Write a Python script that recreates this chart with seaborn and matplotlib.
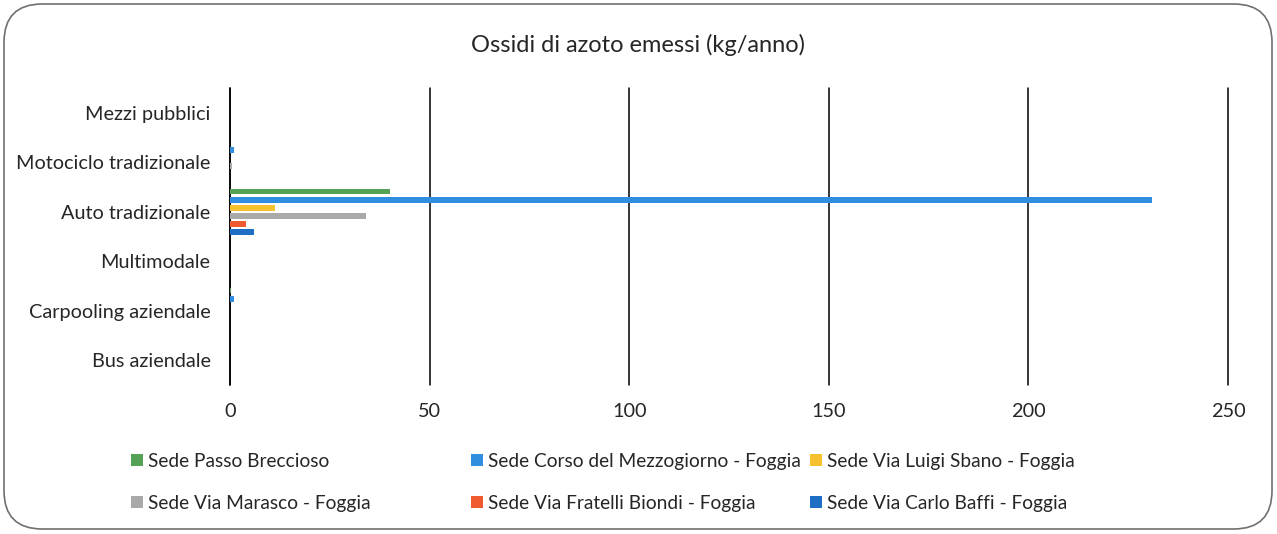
#!/usr/bin/env python
# Ossidi di azoto emessi - horizontal grouped bars

import numpy as np
import pandas as pd
import seaborn as sns
import matplotlib.pyplot as plt
from matplotlib.patches import FancyBboxPatch, Patch

categories = ['Mezzi pubblici', 'Motociclo tradizionale', 'Auto tradizionale',
              'Multimodale', 'Carpooling aziendale', 'Bus aziendale']

sedi = ['Sede Passo Breccioso', 'Sede Corso del Mezzogiorno - Foggia',
        'Sede Via Luigi Sbano - Foggia', 'Sede Via Marasco - Foggia',
        'Sede Via Fratelli Biondi - Foggia', 'Sede Via Carlo Baffi - Foggia']

# values per sede, in the order of categories
passo_breccioso = [0, 0, 40.1, 0, 0.3, 0]
corso_mezzogiorno = [0, 1.0, 230.9, 0, 1.0, 0]
luigi_sbano = [0, 0, 11.3, 0, 0, 0]
marasco = [0, 0.5, 34.1, 0, 0, 0]
fratelli_biondi = [0, 0, 4.1, 0, 0, 0]
carlo_baffi = [0, 0, 6.1, 0, 0, 0]

colors = ['#55a257', '#2f8ee0', '#f7c22e', '#a9a9a9', '#ef5a2f', '#1e6fc4']

series = [passo_breccioso, corso_mezzogiorno, luigi_sbano,
          marasco, fratelli_biondi, carlo_baffi]
df = pd.DataFrame([
    {'categoria': c, 'sede': s, 'valore': v}
    for s, vals in zip(sedi, series)
    for c, v in zip(categories, vals)
])

sns.set_style('white')
plt.rcParams['font.family'] = ['Lato', 'DejaVu Sans']

fig = plt.figure(figsize=(12.77, 5.34), dpi=100)
ax = fig.add_axes([230 / 1277, 1 - 385 / 534, 998 / 1277, 297 / 534])

sns.barplot(data=df, y='categoria', x='valore', hue='sede', orient='h',
            order=categories, hue_order=sedi, palette=colors,
            width=0.98, gap=0.28, legend=False, ax=ax, saturation=1,
            linewidth=0)

ax.set_xlim(0, 250)
ax.set_xticks(np.arange(0, 251, 50))
ax.grid(axis='x', color='black', linewidth=1.1)
for gl in ax.get_xgridlines():
    gl.set_clip_on(False)
ax.set_axisbelow(True)
ax.axvline(0, color='black', linewidth=1.1, zorder=0.5, clip_on=False)
for sp in ax.spines.values():
    sp.set_visible(False)
ax.set_xlabel('')
ax.set_ylabel('')
ax.tick_params(axis='x', length=0, pad=13, labelsize=14.3)
ax.tick_params(axis='y', length=0, pad=14, labelsize=14.3)

fig.text(638 / 1277, 1 - 45 / 534, 'Ossidi di azoto emessi (kg/anno)',
         ha='center', va='center', fontsize=17)

# legend: three columns placed like the original
handles = [Patch(facecolor=c, edgecolor='none') for c in colors]
col_x = [131, 471, 810]
for i, x in enumerate(col_x):
    leg = fig.legend([handles[i], handles[i + 3]], [sedi[i], sedi[i + 3]],
                     loc='upper left', bbox_to_anchor=(x / 1277, 1 - 453 / 534),
                     frameon=False, fontsize=13.8, handlelength=0.6,
                     handleheight=0.6, handletextpad=0.3, labelspacing=1.3,
                     borderaxespad=0, borderpad=0)

border = FancyBboxPatch((4 / 1277, 5 / 534), 1268 / 1277, 525 / 534,
                        boxstyle='round,pad=0,rounding_size=0.03',
                        transform=fig.transFigure, facecolor='none',
                        edgecolor='#707070', linewidth=1.2,
                        mutation_aspect=1277 / 534)
fig.patches.append(border)

fig.savefig('out.png', dpi=100)
